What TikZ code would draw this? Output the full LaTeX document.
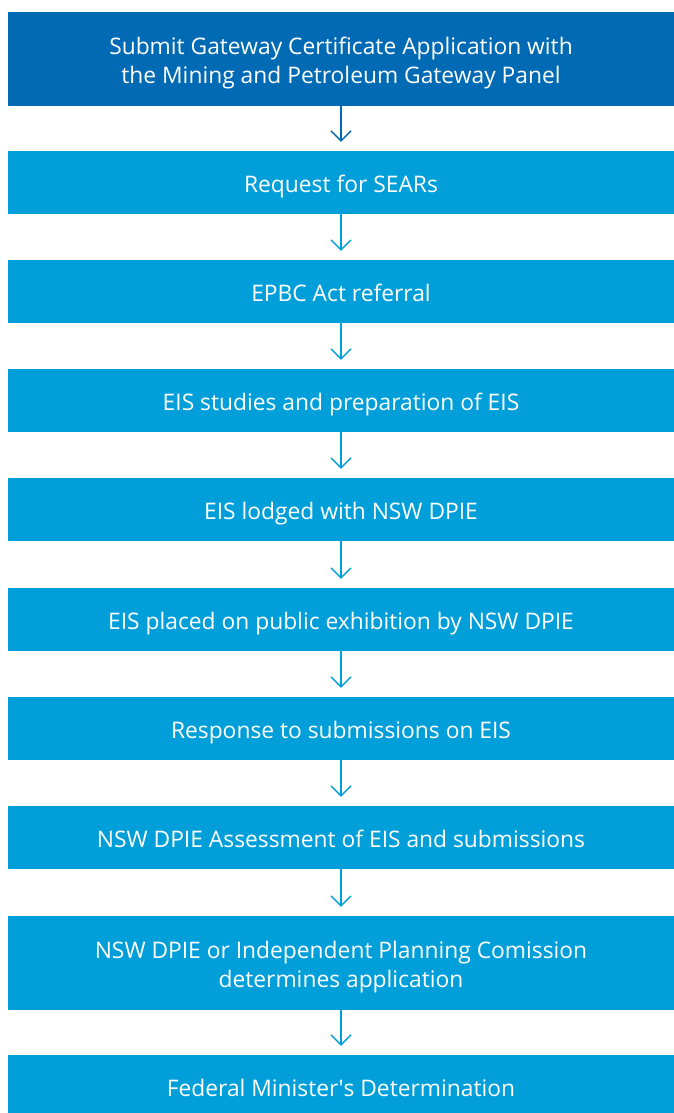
\documentclass[tikz,border=0pt]{standalone}
\usepackage{fontspec}
\setmainfont{Open Sans}
\usetikzlibrary{arrows.meta}
\definecolor{darkstep}{HTML}{006AB5}
\definecolor{lightstep}{HTML}{009FDA}
\begin{document}
\begin{tikzpicture}[x=1pt, y=-1pt,
	stepbox/.style={fill=lightstep, text=white, minimum width=666pt, minimum height=63pt, inner sep=0pt, align=center, text height=19.6pt, text depth=0pt, font=\fontsize{22.8}{29}\selectfont},
	tallbox/.style={stepbox, minimum height=94pt, text height=48.6pt},
	firstbox/.style={tallbox, fill=darkstep},
	flow/.style={-{Straight Barb[length=10pt, width=20pt]}, line width=1.4pt, color=lightstep, shorten >=9pt}]
	\useasboundingbox (0,0) rectangle (674,1113);
	\newcommand{\MIDX}{341}
	\node[firstbox](gate) at (\MIDX, 59){Submit Gateway Certificate Application with\\the Mining and Petroleum Gateway Panel};
	\node[stepbox](sears) at (\MIDX, 182.5){Request for SEARs};
	\node[stepbox](epbc) at (\MIDX, 291.5){EPBC Act referral};
	\node[stepbox](study) at (\MIDX, 400.5){EIS studies and preparation of EIS};
	\node[stepbox](lodge) at (\MIDX, 509.5){EIS lodged with NSW DPIE};
	\node[stepbox](exhib) at (\MIDX, 619.5){EIS placed on public exhibition by NSW DPIE};
	\node[stepbox](resp) at (\MIDX, 728.5){Response to submissions on EIS};
	\node[stepbox](assess) at (\MIDX, 837.5){NSW DPIE Assessment of EIS and submissions};
	\node[tallbox](decide) at (\MIDX, 963){NSW DPIE or Independent Planning Comission\\determines application};
	\node[stepbox](fed) at (\MIDX, 1086.5){Federal Minister\textquotesingle s Determination};
	\draw [flow, color=darkstep] (gate) -- (sears);
	\draw [flow] (sears) -- (epbc);
	\draw [flow] (epbc) -- (study);
	\draw [flow] (study) -- (lodge);
	\draw [flow] (lodge) -- (exhib);
	\draw [flow] (exhib) -- (resp);
	\draw [flow] (resp) -- (assess);
	\draw [flow] (assess) -- (decide);
	\draw [flow] (decide) -- (fed);
\end{tikzpicture}
\end{document}
